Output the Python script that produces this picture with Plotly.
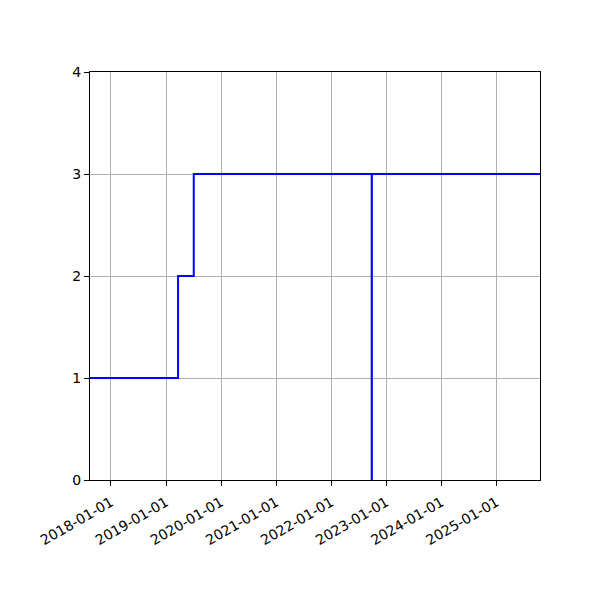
import plotly.graph_objects as go

dates = ["2017-08-15", "2019-03-22", "2019-07-04", "2022-09-26", "2022-09-27", "2025-10-16"]
values = [1, 2, 3, 0, 3, 3]
tick_dates = ["2018-01-01", "2019-01-01", "2020-01-01", "2021-01-01",
              "2022-01-01", "2023-01-01", "2024-01-01", "2025-01-01"]
y_ticks = [0, 1, 2, 3, 4]

fig = go.Figure()
fig.add_trace(go.Scatter(x=dates, y=values, mode="lines",
                         line=dict(color="blue", width=2, shape="hv"),
                         showlegend=False))

axis_common = dict(showline=True, linecolor="black", linewidth=1, mirror=True,
                   ticks="outside", ticklen=5, tickcolor="black", tickwidth=1,
                   showgrid=True, gridcolor="#b0b0b0", gridwidth=1, zeroline=False,
                   automargin=False,
                   tickfont=dict(family="DejaVu Sans", size=14, color="black"))

fig.update_layout(
    width=600, height=600,
    margin=dict(l=82, r=68, t=64, b=128),
    plot_bgcolor="white", paper_bgcolor="white",
    xaxis=dict(range=[dates[0], dates[-1]], tickvals=tick_dates, ticktext=tick_dates,
               tickangle=-30, ticklabelstandoff=3, **axis_common),
    yaxis=dict(range=[0, 4], tickvals=y_ticks, **axis_common),
)
fig.write_html("out.html")
